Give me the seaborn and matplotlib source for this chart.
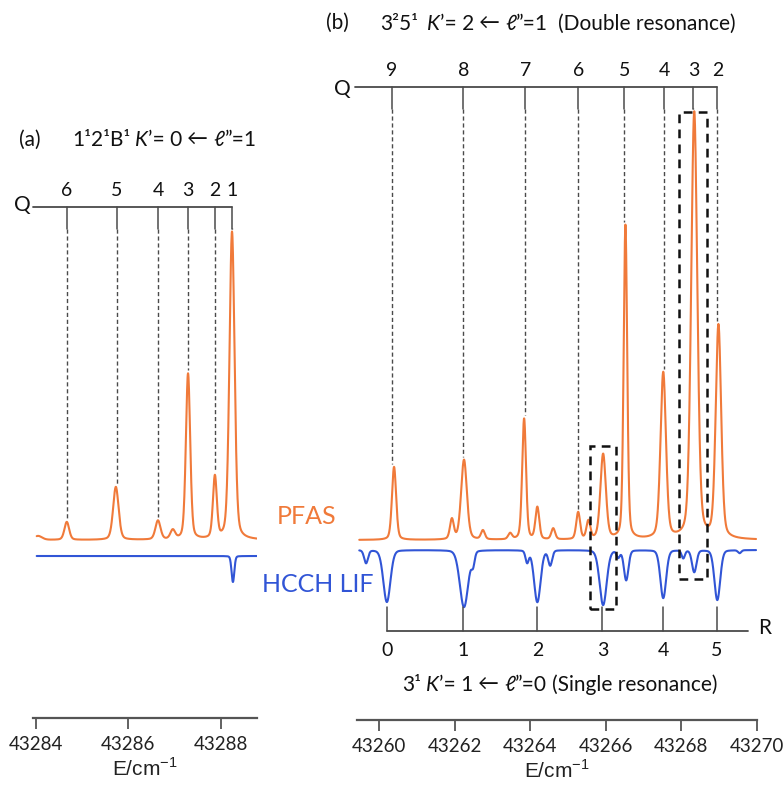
import numpy as np
import pandas as pd
import matplotlib
matplotlib.use("Agg")
import matplotlib.pyplot as plt
from matplotlib.patches import Rectangle
import seaborn as sns

# ---------------- panel (a): 1^1 2^1 B^1  K'=0 <- l''=1
a_pfas_pos = [43284.05, 43284.67, 43285.73, 43286.64, 43286.96, 43287.29, 43287.87, 43288.24]
a_pfas_amp = [4, 18, 53, 19, 9, 166, 62, 308]
a_pfas_fwhm = [0.2, 0.12, 0.14, 0.13, 0.12, 0.11, 0.10, 0.13]
a_lif_pos = [43288.26]
a_lif_amp = [26]
a_lif_fwhm = [0.07]
a_q_pos = [43284.67, 43285.75, 43286.64, 43287.29, 43287.87, 43288.24]
a_q_lab = ["6", "5", "4", "3", "2", "1"]
a_ticks = [43284, 43286, 43288]

# ---------------- panel (b): 3^2 5^1  K'=2 <- l''=1
b_pfas_pos = [43260.40, 43261.93, 43262.25, 43262.75, 43263.47, 43263.84, 43264.19, 43264.61,
              43265.27, 43265.54, 43265.93, 43266.52, 43267.52, 43268.34, 43268.98]
b_pfas_amp = [73, 20, 80, 9, 6, 121, 32, 11, 27, 18, 85, 314, 166, 427, 213]
b_pfas_fwhm = [0.13, 0.12, 0.18, 0.12, 0.12, 0.12, 0.12, 0.12, 0.12, 0.12, 0.17, 0.11, 0.17, 0.19, 0.17]
b_lif_pos = [43259.66, 43260.21, 43262.25, 43262.49, 43263.92, 43264.19, 43264.53, 43265.93,
             43266.33, 43266.54, 43267.52, 43268.05, 43268.34, 43268.95, 43269.54]
b_lif_amp = [13, 52, 57, 12, 12, 52, 15, 55, 7, 30, 48, 8, 22, 50, 3]
b_lif_fwhm = [0.12, 0.22, 0.26, 0.1, 0.1, 0.2, 0.12, 0.22, 0.1, 0.14, 0.18, 0.1, 0.14, 0.18, 0.1]
b_q_pos = [43260.34, 43262.23, 43263.87, 43265.27, 43266.49, 43267.55, 43268.32, 43268.95]
b_q_lab = ["9", "8", "7", "6", "5", "4", "3", "2"]
b_r_pos = [43260.21, 43262.23, 43264.19, 43265.91, 43267.52, 43268.93]
b_r_lab = ["0", "1", "2", "3", "4", "5"]
b_ticks = [43260, 43262, 43264, 43266, 43268, 43270]
b_boxes = [(43265.59, 43266.28), (43267.95, 43268.69)]

ORANGE = "#F07A3A"
BLUE = "#3155D6"
GREY = "#4a4a4a"
W, H = 783, 786

sns.set_theme(style="white")
plt.rcParams["font.family"] = ["Lato", "DejaVu Sans"]


def profile(x, pos, amp, fwhm, eta):
    y = np.zeros_like(x)
    for p, a, w in zip(pos, amp, fwhm):
        s = w / 2.3548
        g = np.exp(-0.5 * ((x - p) / s) ** 2)
        l = (w / 2) ** 2 / ((x - p) ** 2 + (w / 2) ** 2)
        y += a * ((1 - eta) * g + eta * l)
    return y


def fy(py):
    # vertical layout: data y = 540 - pixel row
    return 540 - py


def runs(fig, x_px, base_px, parts, size):
    r = fig.canvas.get_renderer()
    x = x_px
    for s, st, gap in parts:
        t = fig.text(x / W, 1 - base_px / H, s, fontsize=size, style=st,
                     ha="left", va="baseline", color="#111")
        x += t.get_window_extent(r).width + gap


fig = plt.figure(figsize=(W / 100, H / 100), dpi=100)
axa = fig.add_axes([33 / W, (H - 718) / H, 224 / W, 718 / H])
axb = fig.add_axes([357 / W, (H - 720) / H, 400 / W, 720 / H])
axa.set_xlim(43283.94, 43288.78)
axa.set_ylim(fy(718), fy(0))
axb.set_xlim(43259.42, 43270.0)
axb.set_ylim(fy(720), fy(0))

panels = [
    (axa, (43284.02, 43288.78), a_pfas_pos, a_pfas_amp, a_pfas_fwhm, a_lif_pos, a_lif_amp, a_lif_fwhm, -16),
    (axb, (43259.48, 43269.98), b_pfas_pos, b_pfas_amp, b_pfas_fwhm, b_lif_pos, b_lif_amp, b_lif_fwhm, -10),
]
spectra = {}
for ax, rng, pp, pa, pw, lp, la, lw, off in panels:
    e = np.arange(rng[0], rng[1], 0.005)
    pf = profile(e, pp, pa, pw, 0.3)
    lf = off - profile(e, lp, la, lw, 0.15)
    df = pd.concat([
        pd.DataFrame({"E": e, "I": pf, "trace": "PFAS"}),
        pd.DataFrame({"E": e, "I": lf, "trace": "HCCH LIF"}),
    ])
    sns.lineplot(data=df, x="E", y="I", hue="trace", palette={"PFAS": ORANGE, "HCCH LIF": BLUE},
                 estimator=None, legend=False, linewidth=1.5, ax=ax)
    spectra[ax] = (e, pf)

    for s in ["top", "left", "right"]:
        ax.spines[s].set_visible(False)
    ax.spines["bottom"].set_color("#555")
    ax.spines["bottom"].set_linewidth(1.6)
    ax.set_yticks([])
    ax.set_ylabel("")
    ax.tick_params(axis="x", direction="out", length=8, width=1.3, color="#555",
                   pad=5, labelsize=13.5, labelcolor="#222", bottom=True)
    ax.set_xlabel("E/cm$^{\\mathregular{-1}}$", fontfamily="Liberation Sans", fontsize=15,
                  labelpad=3, color="#222")

axa.set_xticks(a_ticks)
axa.set_xticklabels([str(t) for t in a_ticks])
axb.set_xticks(b_ticks)
axb.set_xticklabels([str(t) for t in b_ticks])


def q_branch(ax, qpos, qlab, qy, x_left, qsize):
    e, pf = spectra[ax]
    ax.plot([x_left, qpos[-1]], [fy(qy), fy(qy)], color=GREY, lw=1.3, clip_on=False)
    for q, lab in zip(qpos, qlab):
        top = pf[np.abs(e - q) < 0.06].max()
        ax.plot([q, q], [fy(qy), fy(qy + 22)], color=GREY, lw=1.1)
        ax.plot([q, q], [fy(qy + 22), top + 3], color=GREY, lw=1.0, ls=(0, (3, 2)))
        ax.text(q, fy(qy - 17), lab, ha="center", va="center", fontsize=qsize, color="#111")


q_branch(axa, a_q_pos, a_q_lab, 207, 43283.94, 14)
q_branch(axb, b_q_pos, b_q_lab, 87, 43259.37, 14)
fig.text(22 / W, 1 - 205 / H, "Q", ha="center", va="center", fontsize=15, color="#111")
fig.text(342 / W, 1 - 89 / H, "Q", ha="center", va="center", fontsize=15, color="#111")

# R branch of the single-resonance LIF spectrum
axb.plot([b_r_pos[0], 43269.77], [fy(631), fy(631)], color=GREY, lw=1.3)
for r, lab in zip(b_r_pos, b_r_lab):
    axb.plot([r, r], [fy(631), fy(607)], color=GREY, lw=1.1)
    axb.text(r, fy(650), lab, ha="center", va="center", fontsize=14, color="#111")
fig.text(765 / W, 1 - 628 / H, "R", ha="center", va="center", fontsize=15, color="#111")

# dashed boxes
for (x0, x1), (ytop, ybot) in zip(b_boxes, [(446, 609), (112, 579)]):
    axb.add_patch(Rectangle((x0, fy(ybot)), x1 - x0, ybot - ytop, fill=False,
                            ec="#111", lw=1.8, ls=(0, (3.5, 2.5)), zorder=5))

# labels
fig.text(277 / W, 1 - 517 / H, "PFAS", ha="left", va="center", fontsize=18, color=ORANGE)
fig.text(374 / W, 1 - 584 / H, "HCCH LIF", ha="right", va="center", fontsize=18, color=BLUE)

fig.text(30 / W, 1 - 140 / H, "(a)", ha="center", va="center", fontsize=15, color="#111")
fig.text(337 / W, 1 - 23 / H, "(b)", ha="center", va="center", fontsize=15, color="#111")
runs(fig, 72, 146, [("1¹2¹B¹", "normal", 5), ("K", "italic", 0), ("’= 0", "normal", 5),
                    ("←", "normal", 5), ("ℓ", "normal", 0), ("”=1", "normal", 0)], 15)
runs(fig, 380, 30, [("3²5¹", "normal", 9), ("K", "italic", 0), ("’= 2", "normal", 5),
                    ("←", "normal", 5), ("ℓ", "normal", 0), ("”=1", "normal", 10),
                    ("(Double resonance)", "normal", 0)], 15)
runs(fig, 402, 691, [("3¹", "normal", 5), ("K", "italic", 0), ("’= 1", "normal", 5),
                     ("←", "normal", 5), ("ℓ", "normal", 0), ("”=0", "normal", 5),
                     ("(Single resonance)", "normal", 0)], 15)

fig.savefig("out.png", dpi=100)
